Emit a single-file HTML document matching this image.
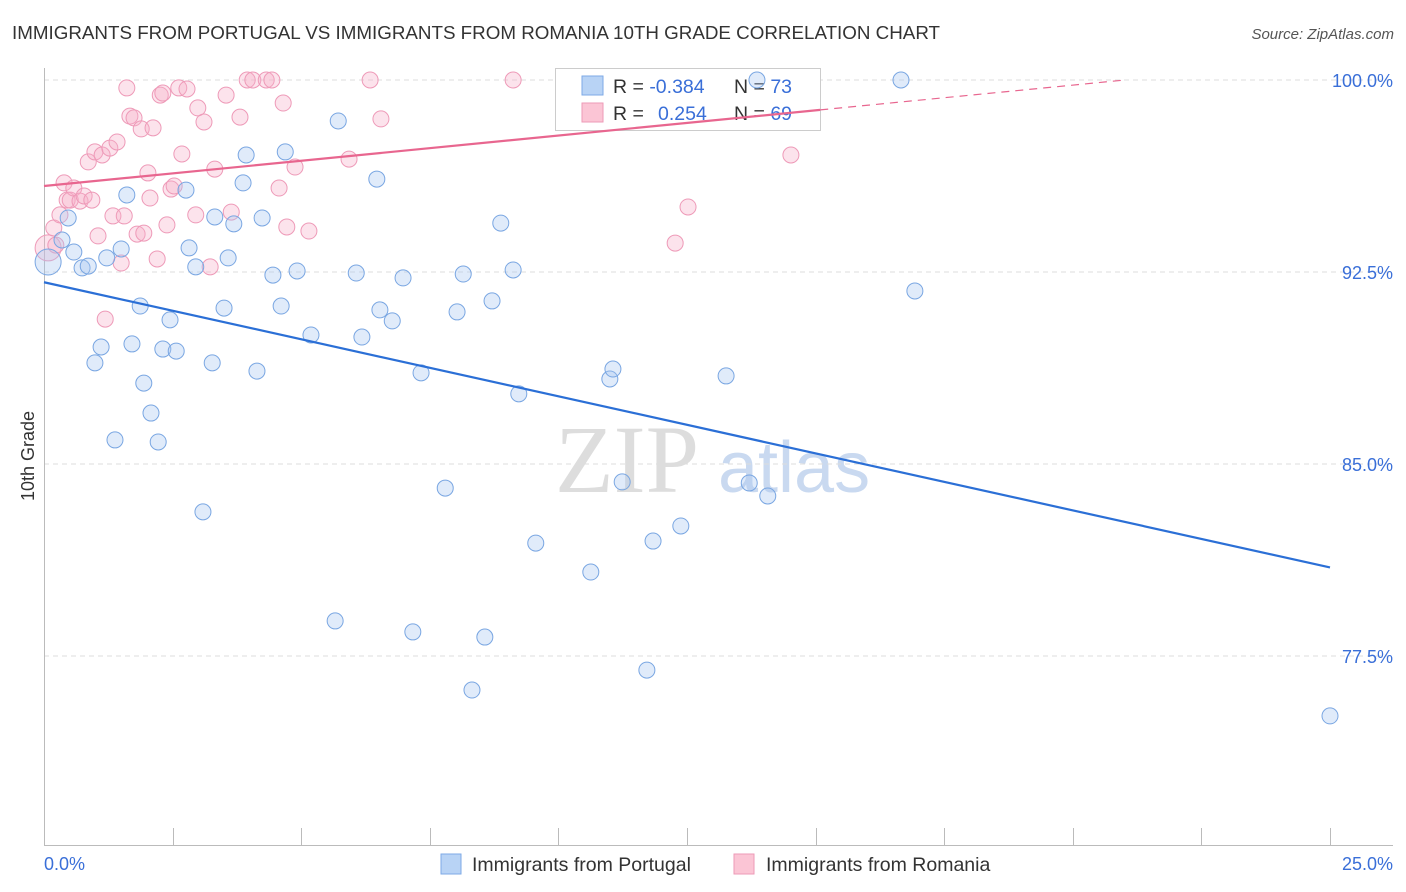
<!DOCTYPE html>
<html><head><meta charset="utf-8"><style>
body{margin:0;background:#fff;font-family:"Liberation Sans",sans-serif}
svg{display:block}
</style></head><body>
<svg id="chart" width="1406" height="892">
<text x="12" y="39" font-size="18.8" fill="#333">IMMIGRANTS FROM PORTUGAL VS IMMIGRANTS FROM ROMANIA 10TH GRADE CORRELATION CHART</text>
<text x="1394" y="39" font-size="15" fill="#555" font-style="italic" text-anchor="end">Source: ZipAtlas.com</text>
<text x="0" y="0" transform="translate(34,456) rotate(-90)" font-size="18" fill="#333" text-anchor="middle">10th Grade</text>
<text x="555" y="492" font-size="96" fill="#ddd" font-family="Liberation Serif,serif">ZIP</text>
<text x="718" y="492" font-size="72" fill="#c9d9f0">atlas</text>
<g id="grid"></g><g id="axes"></g>
<g>
<rect x="555.5" y="68.5" width="265" height="62" fill="#fff" stroke="#ccc"/>
<rect x="582" y="76" width="21" height="19" fill="#b8d3f5" stroke="#7eaae6"/>
<rect x="582" y="103" width="21" height="19" fill="#fbc5d5" stroke="#ee9ab7"/>
<text x="613" y="93" font-size="19.5" fill="#333">R = <tspan fill="#3a6fd8">-0.384</tspan></text>
<text x="734" y="93" font-size="19.5" fill="#333">N = <tspan fill="#3a6fd8">73</tspan></text>
<text x="613" y="120" font-size="19.5" fill="#333">R = <tspan fill="#3a6fd8" x="658">0.254</tspan></text>
<text x="734" y="120" font-size="19.5" fill="#333">N = <tspan fill="#3a6fd8">69</tspan></text>
</g>
<g id="pts"></g><g id="trend"></g>
<g>
<rect x="441" y="854" width="20" height="20" fill="#b8d3f5" stroke="#7eaae6"/>
<text x="472" y="871" font-size="19.5" fill="#333">Immigrants from Portugal</text>
<rect x="734" y="854" width="20" height="20" fill="#fbc5d5" stroke="#ee9ab7"/>
<text x="766" y="871" font-size="19.5" fill="#333">Immigrants from Romania</text>
</g>
</svg>
<script>
const yTicks=[100,92.5,85,77.5];
const yTickLabels=["100.0%","92.5%","85.0%","77.5%"];
const xTickLabels=["0.0%","25.0%"];
const blueX=[0.08,0.35,0.47,0.58,0.74,0.86,0.99,1.11,1.22,1.38,1.50,1.61,1.71,1.87,1.94,2.08,2.22,2.31,2.45,2.57,2.76,2.82,2.95,3.09,3.27,3.32,3.50,3.58,3.69,3.87,3.93,4.14,4.24,4.45,4.61,4.69,4.92,5.19,5.66,5.72,6.07,6.18,6.47,6.53,6.77,6.98,7.17,7.33,7.80,8.03,8.15,8.32,8.57,8.71,8.88,9.12,9.23,9.56,10.63,11.00,11.06,11.24,11.72,11.84,12.38,13.26,13.71,13.86,14.07,16.66,16.93,25.0];
const blueY=[92.89,93.75,94.61,93.28,92.66,92.73,88.95,89.57,93.05,85.94,93.40,95.51,89.69,91.17,88.16,86.99,85.86,89.49,90.63,89.41,95.70,93.44,92.70,83.13,88.95,94.65,91.09,93.05,94.38,95.98,97.07,88.63,94.61,92.38,91.17,97.19,92.54,90.04,78.87,98.40,92.46,89.96,96.13,91.02,90.59,92.27,78.44,88.56,84.06,90.94,92.42,76.17,78.24,91.37,94.41,92.58,87.74,81.91,80.78,88.32,88.71,84.30,76.95,81.99,82.58,88.44,84.26,100,83.75,100,91.76,75.16];
const pinkX=[0.08,0.19,0.23,0.31,0.39,0.45,0.51,0.58,0.70,0.78,0.86,0.93,0.99,1.05,1.13,1.19,1.28,1.34,1.42,1.50,1.56,1.61,1.67,1.75,1.81,1.89,1.94,2.02,2.06,2.12,2.20,2.26,2.31,2.39,2.47,2.53,2.62,2.68,2.78,2.95,2.99,3.11,3.23,3.32,3.54,3.64,3.81,3.95,4.06,4.32,4.43,4.57,4.65,4.72,4.88,5.15,5.93,6.34,6.55,9.12,12.27,12.52,14.52];
const pinkY=[93.44,94.22,93.55,94.73,95.98,95.31,95.31,95.78,95.27,95.47,96.80,95.31,97.19,93.91,97.07,90.66,97.34,94.69,97.58,92.85,94.69,99.69,98.59,98.52,93.98,98.09,94.02,96.37,95.39,98.13,93.01,99.41,99.49,94.34,95.74,95.86,99.69,97.11,99.65,94.73,98.91,98.36,92.70,96.52,99.41,94.84,98.55,100,100,100,100,95.78,99.10,94.26,96.60,94.10,96.91,100,98.48,100,93.63,95.04,97.07];
const blueTrend=[92.1,80.96];
const pinkTrend=[95.86,0.197];
const X0=44,X1=1330,YT=80,PX=1286/25,PY=192/7.5;
const sx=v=>X0+v*PX, sy=v=>YT+(100-v)*PY;
const NS="http://www.w3.org/2000/svg";
function mk(p,t,a){const e=document.createElementNS(NS,t);for(const k in a)e.setAttribute(k,a[k]);p.appendChild(e);return e;}
const grid=document.getElementById('grid'),axes=document.getElementById('axes'),pts=document.getElementById('pts'),tr=document.getElementById('trend');
yTicks.forEach((t,i)=>{
 const l=mk(grid,'line',{x1:44,x2:1393,y1:sy(t),y2:sy(t),stroke:'#ddd','stroke-dasharray':'5,4'});
 
 
 const tx=mk(axes,'text',{x:1393,y:sy(t)+7,'font-size':18,fill:'#3a6fd8','text-anchor':'end'});tx.textContent=yTickLabels[i];
 
 
});
const ya=mk(axes,'line',{x1:44.5,x2:44.5,y1:68,y2:845,stroke:'#bbb'});


const xa=mk(axes,'line',{x1:44,x2:1393,y1:845.5,y2:845.5,stroke:'#bbb'});


for(let i=0;i<=10;i++){const x=Math.round(sx(i*2.5))+0.5;const t=mk(axes,'line',{x1:x,x2:x,y1:828,y2:845,stroke:'#bbb'});
 
 }
[[0,'start',44],[1,'end',1393]].forEach(([i,a,x])=>{const t=mk(axes,'text',{x:x,y:870,'font-size':18,fill:'#3a6fd8','text-anchor':a});t.textContent=xTickLabels[i];
 
 });
function dots(X,Y,f,s,n){X.forEach((x,i)=>{const r=(i===0)?13:8;const c=mk(pts,'circle',{cx:sx(x),cy:sy(Y[i]),r:r,fill:f,stroke:s,'stroke-width':1});
 
 });}
dots(pinkX,pinkY,'rgba(246,176,200,0.35)','#ee9ab8','point-romania');
dots(blueX,blueY,'rgba(166,199,242,0.35)','#79a6e2','point-portugal');
const bl=mk(tr,'line',{x1:sx(0),y1:sy(blueTrend[0]),x2:sx(25),y2:sy(blueTrend[1]),stroke:'#2b6fd6','stroke-width':2.2});


const pe=15.09;
const pl=mk(tr,'line',{x1:sx(0),y1:sy(pinkTrend[0]),x2:sx(pe),y2:sy(pinkTrend[0]+pinkTrend[1]*pe),stroke:'#e8668f','stroke-width':2.2});


const xe=(100-pinkTrend[0])/pinkTrend[1];
const pd=mk(tr,'line',{x1:sx(pe),y1:sy(pinkTrend[0]+pinkTrend[1]*pe),x2:sx(xe),y2:sy(100),stroke:'#e8668f','stroke-width':1.2,'stroke-dasharray':'8,6'});


</script>
</body></html>
